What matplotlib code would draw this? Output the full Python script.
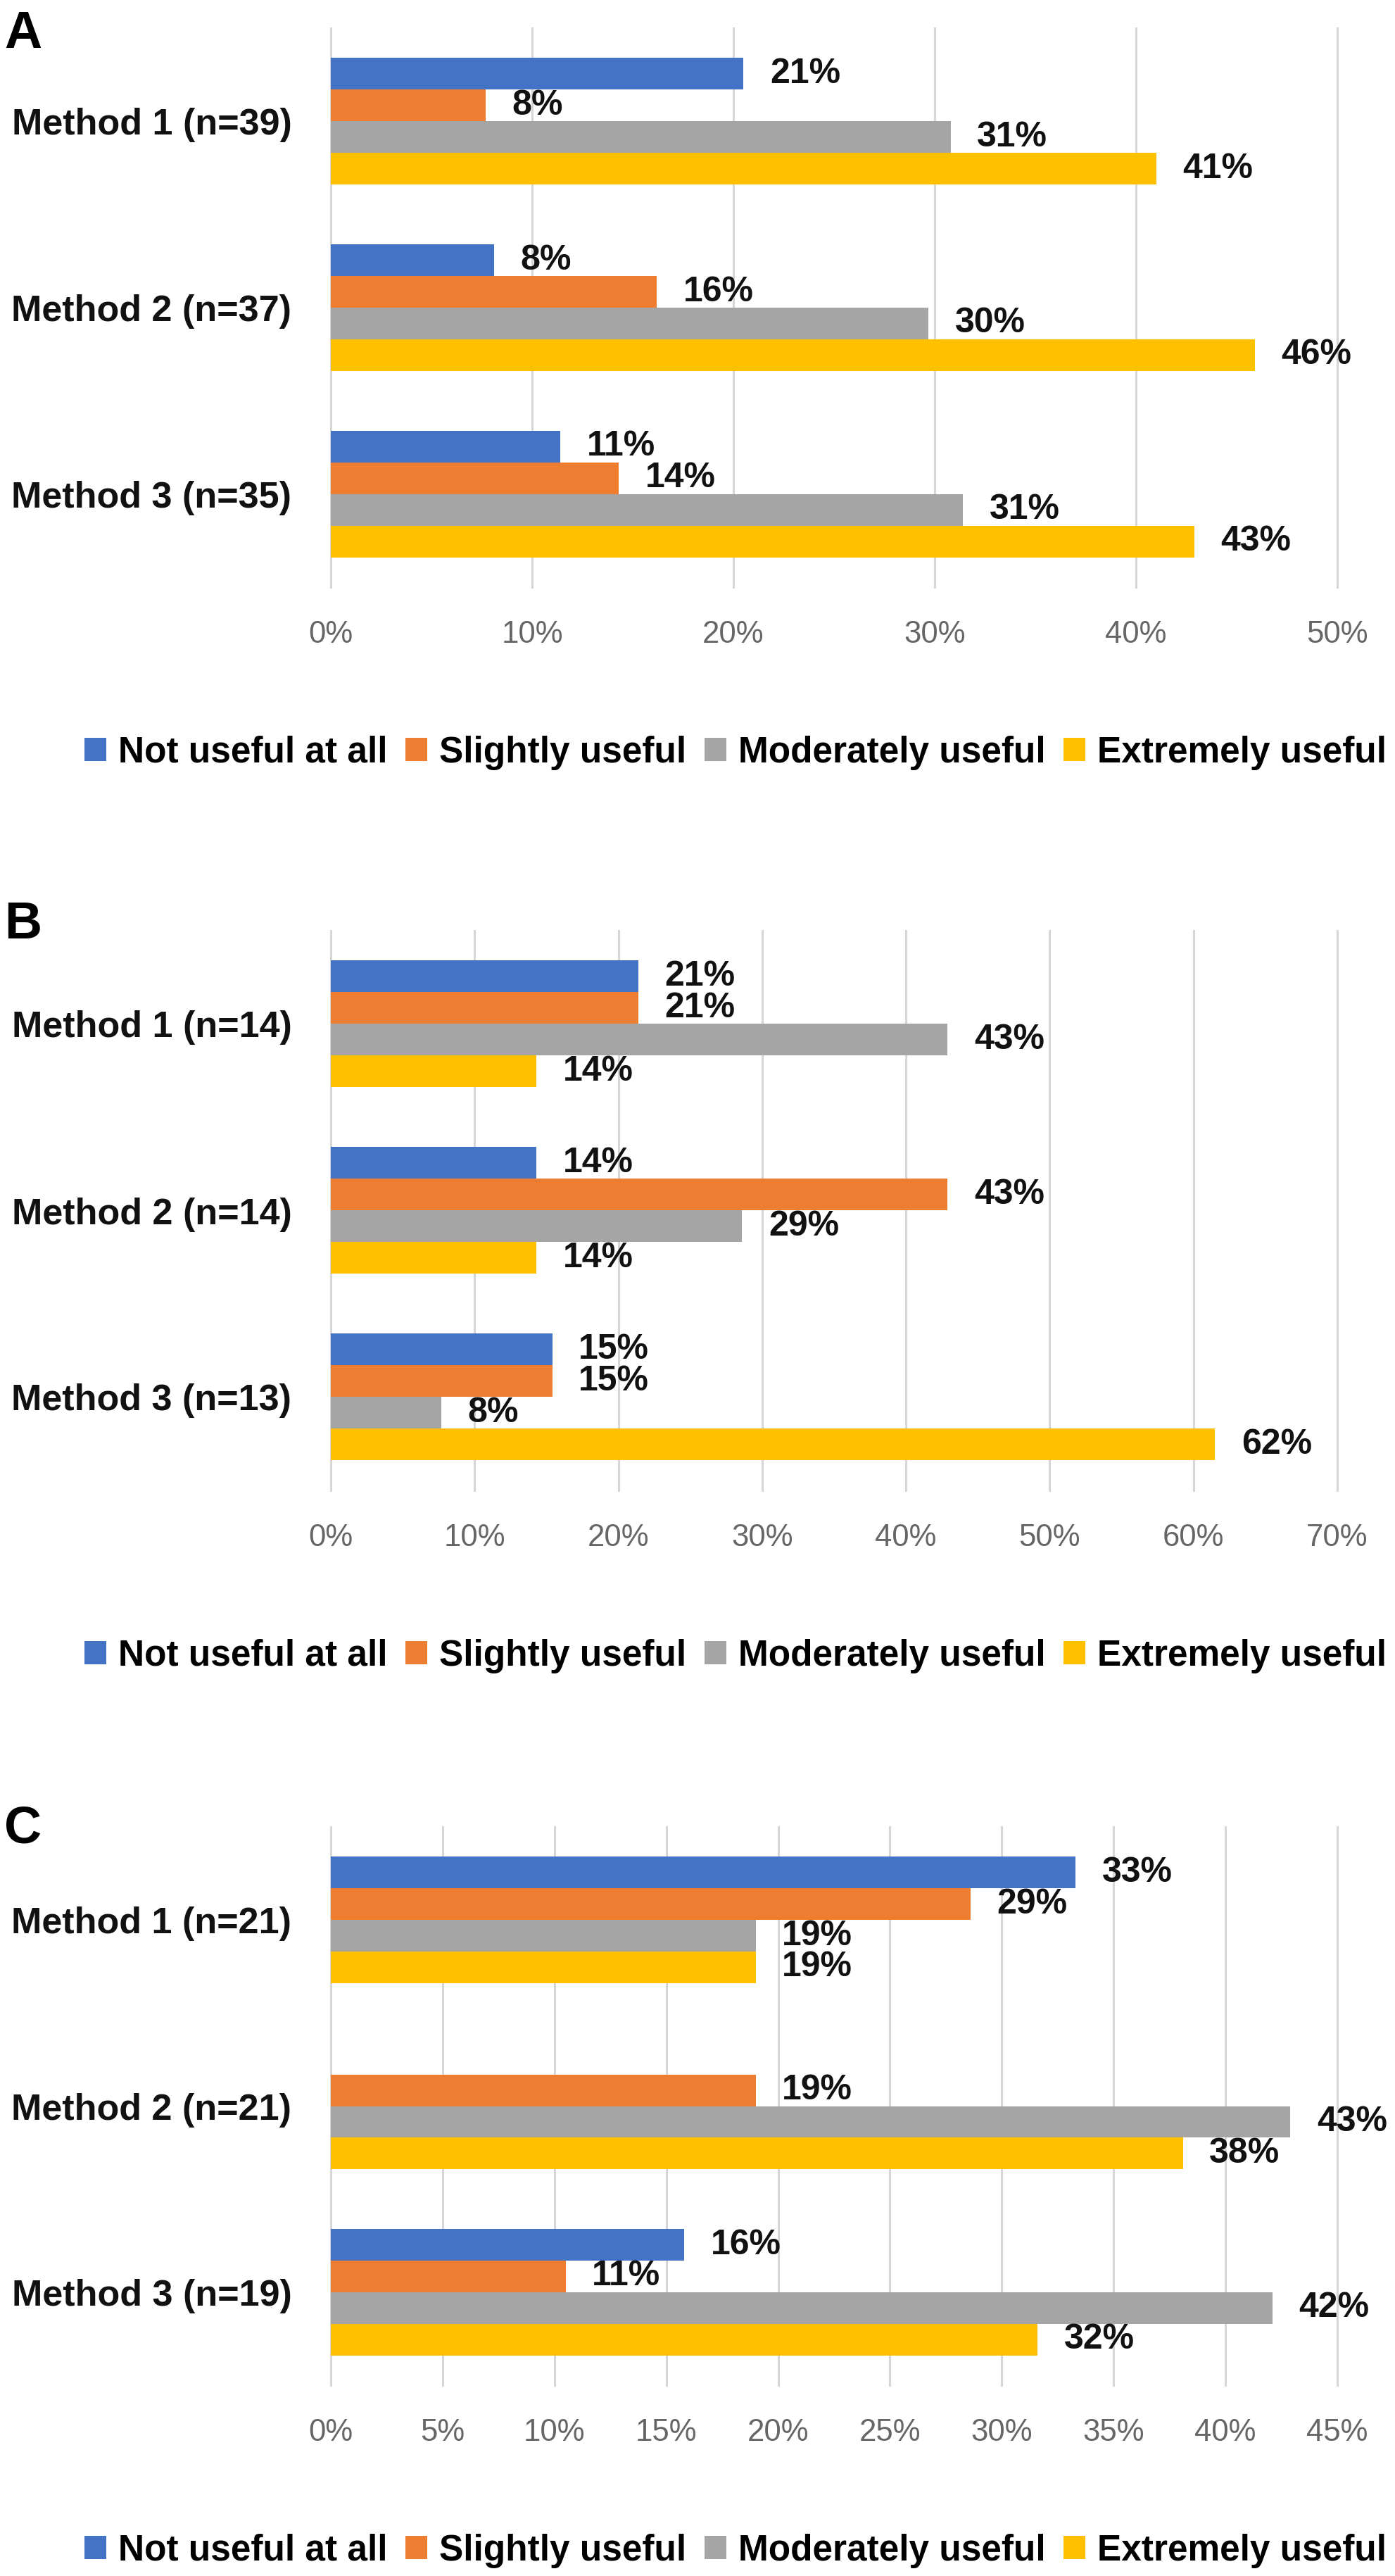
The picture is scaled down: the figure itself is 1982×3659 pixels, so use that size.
import math

import matplotlib
matplotlib.use("Agg")
import matplotlib.pyplot as plt

plt.rcParams['font.family'] = ['Liberation Sans', 'DejaVu Sans']

SERIES = ["Not useful at all", "Slightly useful", "Moderately useful", "Extremely useful"]
COLORS = ["#4472C4", "#ED7D31", "#A5A5A5", "#FFC000"]

# panel A
A_CATEGORIES = ["Method 1 (n=39)", "Method 2 (n=37)", "Method 3 (n=35)"]
A_NOT_USEFUL = [20.5, 8.1, 11.4]
A_SLIGHTLY = [7.7, 16.2, 14.3]
A_MODERATELY = [30.8, 29.7, 31.4]
A_EXTREMELY = [41.0, 45.9, 42.9]

# panel B
B_CATEGORIES = ["Method 1 (n=14)", "Method 2 (n=14)", "Method 3 (n=13)"]
B_NOT_USEFUL = [21.4, 14.3, 15.4]
B_SLIGHTLY = [21.4, 42.9, 15.4]
B_MODERATELY = [42.9, 28.6, 7.7]
B_EXTREMELY = [14.3, 14.3, 61.5]

# panel C
C_CATEGORIES = ["Method 1 (n=21)", "Method 2 (n=21)", "Method 3 (n=19)"]
C_NOT_USEFUL = [33.3, 0.0, 15.8]
C_SLIGHTLY = [28.6, 19.0, 10.5]
C_MODERATELY = [19.0, 42.9, 42.1]
C_EXTREMELY = [19.0, 38.1, 31.6]

W, H = 1983, 3659
fig = plt.figure(figsize=(W / 100, H / 100), dpi=100)

BAR_H = 45 / 265


def draw_panel(letter, letter_base, top, bottom, categories, series, xmax, step):
    """Draw one grouped horizontal bar panel; top/bottom in pixels from figure top."""
    ax = fig.add_axes([470 / W, 1 - bottom / H, 1430 / W, (bottom - top) / H])
    handles = []
    for k, (vals, color) in enumerate(zip(series, COLORS)):
        ys = [i + (k - 1.5) * BAR_H for i in range(len(categories))]
        bars = ax.barh(ys, vals, height=BAR_H, color=color, zorder=3)
        handles.append(bars)
        for y, v in zip(ys, vals):
            if v <= 0:
                continue
            ax.annotate(f"{math.floor(v + 0.5)}%", (v, y), xytext=(27, 0),
                        textcoords="offset points", ha="left", va="center",
                        fontsize=36, fontweight="bold", color="#111111", zorder=4)

    ax.set_xlim(0, xmax)
    ax.set_ylim(len(categories) - 0.5, -0.5)
    ticks = list(range(0, xmax + 1, step))
    ax.set_xticks(ticks)
    ax.set_xticklabels([f"{t}%" for t in ticks])
    ax.set_yticks(range(len(categories)))
    ax.set_yticklabels(categories, fontweight="bold")
    ax.tick_params(axis="x", length=0, pad=34, labelsize=31.5, labelcolor="#666666")
    ax.tick_params(axis="y", length=0, pad=40, labelsize=37.5, labelcolor="#111111")
    for s in ax.spines.values():
        s.set_visible(False)
    ax.xaxis.grid(True, color="#d6d6d6", linewidth=2.2, zorder=0)
    for gl in ax.get_xgridlines():
        gl.set_clip_on(False)
    ax.set_axisbelow(True)

    ax.legend(handles, SERIES, loc="center", ncol=4, frameon=False,
              bbox_to_anchor=(1045 / W, 1 - (bottom + 235) / H),
              bbox_transform=fig.transFigure,
              prop={"size": 37, "weight": "bold"},
              handlelength=0.6, handleheight=0.6, handletextpad=0.33,
              columnspacing=0.5, borderpad=0)

    fig.text(6 / W, 1 - letter_base / H, letter, fontsize=53, fontweight="bold",
             ha="left", va="baseline")
    return ax


draw_panel("A", 68, 40, 834, A_CATEGORIES,
           [A_NOT_USEFUL, A_SLIGHTLY, A_MODERATELY, A_EXTREMELY], 50, 10)
draw_panel("B", 1333, 1322, 2117, B_CATEGORIES,
           [B_NOT_USEFUL, B_SLIGHTLY, B_MODERATELY, B_EXTREMELY], 70, 10)
draw_panel("C", 2617, 2595, 3388, C_CATEGORIES,
           [C_NOT_USEFUL, C_SLIGHTLY, C_MODERATELY, C_EXTREMELY], 45, 5)

fig.savefig("out.png", dpi=100, facecolor="white")
